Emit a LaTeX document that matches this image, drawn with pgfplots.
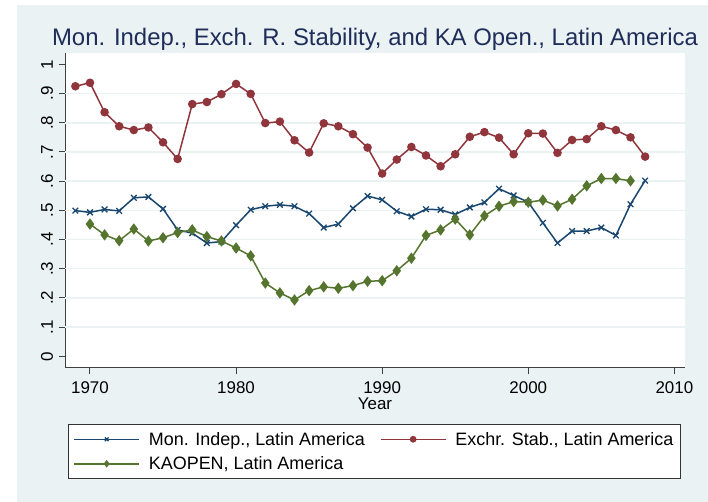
\documentclass[border=0pt]{standalone}
\usepackage{fontspec}
\setmainfont{Liberation Sans}
\usepackage{pgfplots}
\pgfplotsset{compat=1.18}
\definecolor{bgc}{RGB}{234,242,243}
\definecolor{sNavy}{RGB}{26,71,111}
\definecolor{sMaroon}{RGB}{144,53,59}
\definecolor{sGreen}{RGB}{85,117,47}
\definecolor{titlec}{RGB}{30,45,90}
\begin{document}
\begin{tikzpicture}[x=1bp,y=1bp]
\useasboundingbox (0,0) rectangle (708,502);
\fill[bgc] (17,0) rectangle (708,497);
\begin{axis}[
  at={(65bp,134.3bp)}, anchor=south west,
  scale only axis, width=620bp, height=314.7bp,
  xmin=1968.29, xmax=2010.73, ymin=-0.039, ymax=1.039,
  axis x line*=bottom, axis y line*=left,
  axis background/.style={fill=white},
  axis line style={black!75, line width=1bp},
  tick align=outside, major tick length=6.5bp,
  tick style={black!75, line width=1bp},
  xtick={1970,1980,1990,2000,2010},
  xticklabels={1970,1980,1990,2000,2010},
  ytick={0,0.1,0.2,0.3,0.4,0.5,0.6,0.7,0.8,0.9,1},
  yticklabels={0,.1,.2,.3,.4,.5,.6,.7,.8,.9,1},
  extra y ticks={0.1,0.2,0.3,0.4,0.5,0.6,0.7,0.8,0.9},
  extra y tick labels={},
  extra y tick style={grid=major, major tick length=0bp},
  grid style={bgc, line width=1.5bp},
  ticklabel style={font=\fontsize{17}{20}\selectfont, black},
  xticklabel style={yshift=-4bp},
  yticklabel style={xshift=-2bp, rotate=90, anchor=south},
  xlabel={Year},
  xlabel style={at={(axis description cs:0.5,0)}, anchor=base, yshift=-42.3bp, font=\fontsize{17}{20}\selectfont},
  title={Mon. Indep., Exch. R. Stability, and KA Open., Latin America},
  title style={at={(axis description cs:0.5,1)}, anchor=base, yshift=2bp, font=\fontsize{24}{28}\selectfont, text=titlec},
  legend columns=2,
  legend cell align=left,
  legend style={at={(0.499,-0.18)}, anchor=north, draw=black!80, fill=white,
    font=\fontsize{18}{21}\selectfont, inner xsep=5bp, inner ysep=5.5bp, row sep=6bp,
    /tikz/every odd column/.append style={column sep=7bp},
    /tikz/every even column/.append style={column sep=13bp}},
  legend image code/.code={\draw[mark repeat=2,mark phase=2,mark size=2.6bp] plot coordinates {(0bp,0bp) (32.5bp,0bp) (65bp,0bp)};},
]
\addplot[sNavy, line width=1.5bp, mark=x, mark size=4bp, mark options={line width=1.3bp}] coordinates {
(1969,0.499)(1970,0.493)(1971,0.503)(1972,0.498)(1973,0.543)(1974,0.546)(1975,0.505)
(1976,0.433)(1977,0.422)(1978,0.388)(1979,0.393)(1980,0.449)(1981,0.502)(1982,0.514)
(1983,0.519)(1984,0.514)(1985,0.489)(1986,0.441)(1987,0.453)(1988,0.507)(1989,0.549)
(1990,0.536)(1991,0.497)(1992,0.479)(1993,0.504)(1994,0.502)(1995,0.486)(1996,0.510)
(1997,0.527)(1998,0.574)(1999,0.551)(2000,0.528)(2001,0.457)(2002,0.388)(2003,0.429)
(2004,0.429)(2005,0.441)(2006,0.414)(2007,0.521)(2008,0.602)};
\addlegendentry{Mon. Indep., Latin America}
\addplot[sMaroon, line width=1.5bp, mark=*, mark size=3.5bp] coordinates {
(1969,0.925)(1970,0.937)(1971,0.836)(1972,0.788)(1973,0.775)(1974,0.784)(1975,0.733)
(1976,0.676)(1977,0.864)(1978,0.871)(1979,0.898)(1980,0.933)(1981,0.899)(1982,0.799)
(1983,0.804)(1984,0.740)(1985,0.698)(1986,0.798)(1987,0.788)(1988,0.761)(1989,0.715)
(1990,0.626)(1991,0.674)(1992,0.717)(1993,0.688)(1994,0.651)(1995,0.692)(1996,0.752)
(1997,0.768)(1998,0.749)(1999,0.692)(2000,0.764)(2001,0.763)(2002,0.697)(2003,0.741)
(2004,0.744)(2005,0.788)(2006,0.775)(2007,0.750)(2008,0.684)};
\addlegendentry{Exchr. Stab., Latin America}
\addplot[sGreen, line width=1.5bp, mark=diamond*, mark size=4.5bp] coordinates {
(1970,0.453)(1971,0.416)(1972,0.396)(1973,0.436)(1974,0.395)(1975,0.406)(1976,0.424)
(1977,0.433)(1978,0.410)(1979,0.395)(1980,0.371)(1981,0.344)(1982,0.251)(1983,0.217)
(1984,0.193)(1985,0.225)(1986,0.238)(1987,0.233)(1988,0.242)(1989,0.257)(1990,0.259)
(1991,0.293)(1992,0.336)(1993,0.414)(1994,0.433)(1995,0.470)(1996,0.416)(1997,0.481)
(1998,0.514)(1999,0.530)(2000,0.528)(2001,0.535)(2002,0.515)(2003,0.538)(2004,0.584)
(2005,0.609)(2006,0.609)(2007,0.601)};
\addlegendentry{KAOPEN, Latin America}
\end{axis}
\end{tikzpicture}
\end{document}
